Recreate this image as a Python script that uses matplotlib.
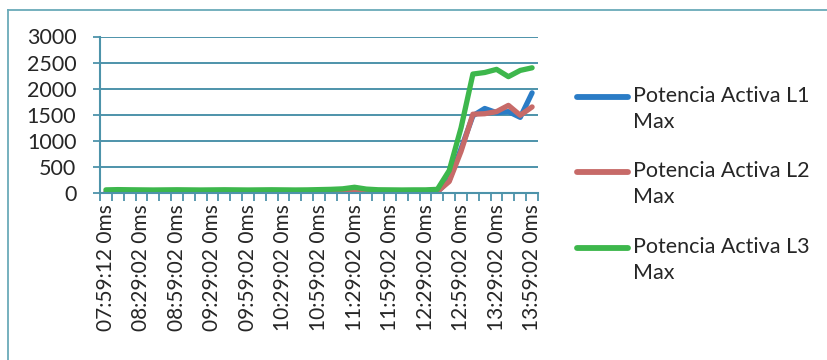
import numpy as np
import matplotlib.pyplot as plt
from matplotlib.lines import Line2D

plt.rcParams['font.family'] = ['Lato', 'DejaVu Sans']

# categories: one reading every 10 minutes
times = ["07:59:12 0ms", "08:09:02 0ms", "08:19:02 0ms", "08:29:02 0ms", "08:39:02 0ms",
         "08:49:02 0ms", "08:59:02 0ms", "09:09:02 0ms", "09:19:02 0ms", "09:29:02 0ms",
         "09:39:02 0ms", "09:49:02 0ms", "09:59:02 0ms", "10:09:02 0ms", "10:19:02 0ms",
         "10:29:02 0ms", "10:39:02 0ms", "10:49:02 0ms", "10:59:02 0ms", "11:09:02 0ms",
         "11:19:02 0ms", "11:29:02 0ms", "11:39:02 0ms", "11:49:02 0ms", "11:59:02 0ms",
         "12:09:02 0ms", "12:19:02 0ms", "12:29:02 0ms", "12:39:02 0ms", "12:49:02 0ms",
         "12:59:02 0ms", "13:09:02 0ms", "13:19:02 0ms", "13:29:02 0ms", "13:39:02 0ms",
         "13:49:02 0ms", "13:59:02 0ms"]

l1 = [5, 5, 8, 5, 5, 6, 5, 5, 8, 5, 5, 6, 5, 10, 30, 8, 5, 5, 6, 5,
      5, 10, 15, 8, 5, 5, 6, 5, 20, 250, 850, 1480, 1620, 1540, 1560, 1450, 1920]
l2 = [15, 15, 14, 15, 15, 16, 15, 15, 14, 15, 15, 16, 15, 15, 14, 15, 15, 16, 15, 15,
      15, 18, 16, 15, 15, 14, 15, 15, 25, 220, 800, 1510, 1520, 1560, 1680, 1490, 1650]
l3 = [60, 65, 62, 60, 58, 60, 62, 60, 58, 60, 62, 60, 58, 60, 62, 60, 58, 60, 65, 70,
      80, 110, 75, 62, 60, 58, 60, 60, 70, 430, 1250, 2280, 2310, 2370, 2230, 2350, 2400]

names = ["Potencia Activa L1\nMax", "Potencia Activa L2\nMax", "Potencia Activa L3\nMax"]
colors = ['#2a7cc6', '#c76a68', '#3db74c']
teal = '#4d93aa'
txt = '#262626'

fig = plt.figure(figsize=(8.28, 3.6), dpi=100)
ax = fig.add_axes([100 / 828, 1 - 193 / 360, 438 / 828, 156.5 / 360])

x = np.arange(len(times))
for vals, c in zip([l1, l2, l3], colors):
    ax.plot(x, vals, color=c, lw=3.8, solid_capstyle='round', solid_joinstyle='round')

ax.set_xlim(-0.5, len(times) - 0.5)
ax.set_ylim(0, 3000)
ax.set_yticks(np.arange(0, 3001, 500))
ax.yaxis.grid(True, color=teal, lw=1.4)
ax.set_axisbelow(True)

# category boundaries as minor ticks, labels every third category
ax.set_xticks(np.arange(-0.5, len(times), 1), minor=True)
ax.set_xticks(x[::3])
ax.set_xticklabels(times[::3], rotation=90, fontsize=15, color=txt)
ax.tick_params(axis='x', which='major', length=0, pad=8)
ax.tick_params(axis='x', which='minor', length=6, width=1.3, color=teal, direction='out')
ax.tick_params(axis='y', length=5, width=1.3, color=teal, direction='out',
               labelsize=15.5, labelcolor=txt, pad=12)

for s in ['top', 'right']:
    ax.spines[s].set_visible(False)
for s in ['left', 'bottom']:
    ax.spines[s].set_color(teal)
    ax.spines[s].set_linewidth(1.5)

# legend drawn by hand to keep the line beside the first text row
leg_y = [97, 172, 248]
for yy, c, name in zip(leg_y, colors, names):
    fy = 1 - yy / 360
    fig.add_artist(Line2D([577 / 828, 628 / 828], [fy, fy], color=c, lw=4.2,
                          solid_capstyle='round', transform=fig.transFigure))
    fig.text(633 / 828, fy + 11 / 360, name, fontsize=15.5, color=txt, va='top',
             linespacing=1.4, transform=fig.transFigure)

# chart area frame (cropped at right and bottom)
fig.add_artist(Line2D([8 / 828, 8 / 828], [0, 1 - 10 / 360], color='#6aaab9', lw=1.3))
fig.add_artist(Line2D([8 / 828, 1], [1 - 10 / 360, 1 - 10 / 360], color='#6aaab9', lw=1.3))

fig.savefig('out.png', dpi=100)
